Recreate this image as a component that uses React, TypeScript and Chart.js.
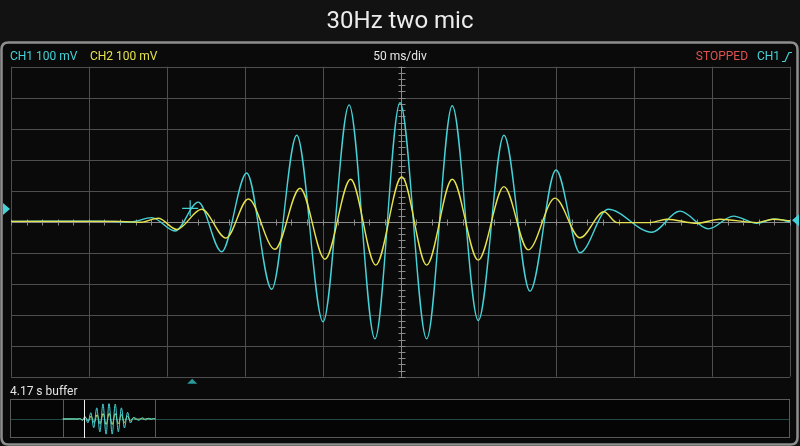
import React, { useEffect, useRef } from "react";
import { Chart, registerables } from "chart.js";
Chart.register(...registerables);

// ---- data ----
const titleText = "30Hz two mic";
const ch1Label = "CH1 100 mV";
const ch2Label = "CH2 100 mV";
const timebaseLabel = "50 ms/div";
const statusLabel = "STOPPED";
const triggerLabel = "CH1";
const bufferLabel = "4.17 s buffer";

// time in ms (screen spans -250..250 ms, 50 ms/div), voltage in mV (100 mV/div)
const ch1Time = [-250, -193, -173.6, -159.7, -144.7, -129.8, -114.8, -98.7, -82.7, -66.6, -49.7, -33.0, -16.4, -0.3, 16.8, 33.2, 49.9, 66.4, 83.1, 99.8, 115.2, 133.2, 161.2, 179.4, 197.6, 213.6, 228.6, 240.4, 250];
const ch1Mv = [1, 2, -1, 13, -30, 63, -97, 157, -218, 279, -323, 377, -378, 384, -378, 374, -319, 279, -224, 167, -100, 40, -34, 34, -23, 18, -5, 9, -1];

const ch2Time = [-250, -180.1, -167.2, -155.5, -143.6, -127.6, -112.0, -97.7, -80.6, -64.5, -48.5, -32.0, -15.9, 0.8, 16.8, 33.2, 49.9, 66.4, 82.0, 99.2, 115.2, 130.6, 139, 160, 171, 190.3, 205, 228.8, 239, 250];
const ch2Mv = [1, 1, -2, 11, -25, 40, -53, 73, -89, 108, -121, 137, -140, 145, -140, 137, -124, 113, -91, 76, -52, 32, -3, -3, 8, -5, 8, -3, 8, 3];

const triggerTimeMs = [-135];
const triggerLevelMv = [43];

const screenRangeMs = [-250, 250];
const voltRangeMv = [-500, 500];
const bufferRangeMs = [-535, 3677];

const CYAN = "#46d2d6";
const YELLOW = "#e6e24e";
const RED = "#e05252";
const GRID = "#4e4e4e";
const TICK = "#8a8a8a";

const toPts = (t: number[], v: number[]) => t.map((x, i) => ({ x, y: v[i] }));

function roundRect(ctx: CanvasRenderingContext2D, x: number, y: number, w: number, h: number, r: number) {
  ctx.beginPath();
  ctx.moveTo(x + r, y);
  ctx.lineTo(x + w - r, y);
  ctx.quadraticCurveTo(x + w, y, x + w, y + r);
  ctx.lineTo(x + w, y + h - r);
  ctx.quadraticCurveTo(x + w, y + h, x + w - r, y + h);
  ctx.lineTo(x + r, y + h);
  ctx.quadraticCurveTo(x, y + h, x, y + h - r);
  ctx.lineTo(x, y + r);
  ctx.quadraticCurveTo(x, y, x + r, y);
  ctx.closePath();
}

const scopePlugin = {
  id: "scope",
  beforeDraw(chart: any) {
    const ctx: CanvasRenderingContext2D = chart.ctx;
    const W = chart.width, H = chart.height;
    ctx.save();
    ctx.fillStyle = "#121212";
    ctx.fillRect(0, 0, W, H);
    // frame
    roundRect(ctx, 1.5, 42.5, W - 4, H - 44, 7);
    ctx.fillStyle = "#0a0a0a";
    ctx.fill();
    ctx.lineWidth = 2.5;
    ctx.strokeStyle = "#8e8e8e";
    ctx.stroke();
    // title
    ctx.fillStyle = "#ececec";
    ctx.font = "24px Roboto, 'Open Sans', sans-serif";
    ctx.textAlign = "center";
    ctx.textBaseline = "middle";
    ctx.fillText(titleText, 400, 22);
    // header
    ctx.font = "12px Roboto, sans-serif";
    ctx.textAlign = "left";
    ctx.fillStyle = CYAN;
    ctx.fillText(ch1Label, 10, 57);
    ctx.fillStyle = YELLOW;
    ctx.fillText(ch2Label, 90, 57);
    ctx.fillStyle = "#e8e8e8";
    ctx.textAlign = "center";
    ctx.fillText(timebaseLabel, 400, 57);
    ctx.textAlign = "right";
    ctx.fillStyle = RED;
    ctx.fillText(statusLabel, 748, 57);
    ctx.textAlign = "left";
    ctx.fillStyle = CYAN;
    ctx.fillText(triggerLabel, 757, 57);
    ctx.strokeStyle = CYAN;
    ctx.lineWidth = 1.2;
    ctx.beginPath();
    ctx.moveTo(782, 61.5);
    ctx.lineTo(785, 61.5);
    ctx.lineTo(789, 52.5);
    ctx.lineTo(792, 52.5);
    ctx.stroke();
    // buffer label
    ctx.fillStyle = "#e4e4e4";
    ctx.fillText(bufferLabel, 10, 392);
    ctx.restore();
  },
  beforeDatasetsDraw(chart: any) {
    const ctx: CanvasRenderingContext2D = chart.ctx;
    const { left, right, top, bottom } = chart.chartArea;
    const xs = chart.scales.x, ys = chart.scales.y;
    ctx.save();
    ctx.strokeStyle = GRID;
    ctx.lineWidth = 1;
    for (let t = screenRangeMs[0]; t <= screenRangeMs[1] + 0.01; t += 50) {
      const px = Math.round(xs.getPixelForValue(t)) + 0.5;
      ctx.beginPath();
      ctx.moveTo(px, top);
      ctx.lineTo(px, bottom);
      ctx.stroke();
    }
    for (let v = voltRangeMv[0]; v <= voltRangeMv[1] + 0.01; v += 100) {
      const py = Math.round(ys.getPixelForValue(v)) + 0.5;
      ctx.beginPath();
      ctx.moveTo(left, py);
      ctx.lineTo(right, py);
      ctx.stroke();
    }
    // center axes with minor ticks
    ctx.strokeStyle = TICK;
    const cx = Math.round(xs.getPixelForValue(0)) + 0.5;
    const cy = Math.round(ys.getPixelForValue(0)) + 0.5;
    ctx.beginPath();
    ctx.moveTo(left, cy);
    ctx.lineTo(right, cy);
    ctx.moveTo(cx, top);
    ctx.lineTo(cx, bottom);
    ctx.stroke();
    ctx.beginPath();
    for (let t = screenRangeMs[0]; t <= screenRangeMs[1] + 0.01; t += 10) {
      const px = Math.round(xs.getPixelForValue(t)) + 0.5;
      ctx.moveTo(px, cy - 3);
      ctx.lineTo(px, cy + 3);
    }
    for (let v = voltRangeMv[0]; v <= voltRangeMv[1] + 0.01; v += 20) {
      const py = Math.round(ys.getPixelForValue(v)) + 0.5;
      ctx.moveTo(cx - 3, py);
      ctx.lineTo(cx + 4, py);
    }
    ctx.stroke();
    ctx.restore();
  },
  afterDraw(chart: any) {
    const ctx: CanvasRenderingContext2D = chart.ctx;
    const { bottom } = chart.chartArea;
    const xs = chart.scales.x, ys = chart.scales.y;
    ctx.save();
    // left channel marker
    ctx.fillStyle = CYAN;
    ctx.beginPath();
    ctx.moveTo(3, 203);
    ctx.lineTo(10, 209);
    ctx.lineTo(3, 215);
    ctx.closePath();
    ctx.fill();
    // right trigger level marker
    const ty = ys.getPixelForValue(5);
    ctx.beginPath();
    ctx.moveTo(799, ty - 6);
    ctx.lineTo(792, ty);
    ctx.lineTo(799, ty + 6);
    ctx.closePath();
    ctx.fill();
    // trigger position marker (bottom)
    const tx = xs.getPixelForValue(triggerTimeMs[0]) + 2;
    ctx.fillStyle = "#2b9a9a";
    ctx.beginPath();
    ctx.moveTo(tx - 5, bottom + 7);
    ctx.lineTo(tx, bottom + 2);
    ctx.lineTo(tx + 5, bottom + 7);
    ctx.closePath();
    ctx.fill();
    ctx.restore();
  },
};

const miniPlugin = {
  id: "mini",
  beforeDatasetsDraw(chart: any) {
    const ctx: CanvasRenderingContext2D = chart.ctx;
    const W = chart.width, H = chart.height;
    const xs = chart.scales.x, ys = chart.scales.y;
    ctx.save();
    ctx.fillStyle = "#050505";
    ctx.fillRect(0, 0, W, H);
    ctx.strokeStyle = "#1f4a48";
    ctx.lineWidth = 1;
    const cy = Math.round(ys.getPixelForValue(0)) + 0.5;
    ctx.beginPath();
    ctx.moveTo(0, cy);
    ctx.lineTo(W, cy);
    ctx.stroke();
    ctx.strokeStyle = "#5a5a5a";
    ctx.strokeRect(0.5, 0.5, W - 1, H - 2);
    for (const t of screenRangeMs) {
      const px = Math.round(xs.getPixelForValue(t)) + 0.5;
      ctx.beginPath();
      ctx.moveTo(px, 0);
      ctx.lineTo(px, H - 1);
      ctx.stroke();
    }
    ctx.restore();
  },
  afterDatasetsDraw(chart: any) {
    const ctx: CanvasRenderingContext2D = chart.ctx;
    const H = chart.height;
    const xs = chart.scales.x;
    const px = Math.round(xs.getPixelForValue(triggerTimeMs[0])) + 0.5;
    ctx.save();
    ctx.strokeStyle = "#f0f0f0";
    ctx.lineWidth = 1;
    ctx.beginPath();
    ctx.moveTo(px, 1);
    ctx.lineTo(px, H - 1);
    ctx.stroke();
    ctx.restore();
  },
};

export default function App() {
  const mainRef = useRef<HTMLCanvasElement>(null);
  const miniRef = useRef<HTMLCanvasElement>(null);

  useEffect(() => {
    document.body.style.margin = "0";
    const main = new Chart(mainRef.current!, {
      type: "line",
      data: {
        datasets: [
          {
            label: "CH2",
            data: toPts(ch2Time, ch2Mv),
            borderColor: YELLOW,
            borderWidth: 1.4,
            pointRadius: 0,
            cubicInterpolationMode: "monotone",
          },
          {
            label: "CH1",
            data: toPts(ch1Time, ch1Mv),
            borderColor: CYAN,
            borderWidth: 1.4,
            pointRadius: 0,
            cubicInterpolationMode: "monotone",
          },
          {
            label: "Trigger",
            data: toPts(triggerTimeMs, triggerLevelMv),
            borderColor: CYAN,
            showLine: false,
            pointStyle: "cross",
            pointRadius: 8,
            pointBorderWidth: 1.2,
          },
        ],
      },
      options: {
        responsive: false,
        animation: false,
        events: [],
        layout: { padding: { left: 11, right: 10, top: 66.7, bottom: 69.3 } },
        scales: {
          x: { type: "linear", min: screenRangeMs[0], max: screenRangeMs[1], display: false },
          y: { type: "linear", min: voltRangeMv[0], max: voltRangeMv[1], display: false },
        },
        plugins: { legend: { display: false }, tooltip: { enabled: false } },
      },
      plugins: [scopePlugin],
    } as any);

    const mini = new Chart(miniRef.current!, {
      type: "line",
      data: {
        datasets: [
          {
            data: toPts(ch1Time, ch1Mv),
            borderColor: CYAN,
            borderWidth: 1,
            pointRadius: 0,
            cubicInterpolationMode: "monotone",
          },
          {
            data: toPts(ch2Time, ch2Mv),
            borderColor: "#b8e070",
            borderWidth: 1,
            pointRadius: 0,
            cubicInterpolationMode: "monotone",
          },
        ],
      },
      options: {
        responsive: false,
        animation: false,
        events: [],
        layout: { padding: 0 },
        scales: {
          x: { type: "linear", min: bufferRangeMs[0], max: bufferRangeMs[1], display: false },
          y: { type: "linear", min: voltRangeMv[0], max: voltRangeMv[1], display: false },
        },
        plugins: { legend: { display: false }, tooltip: { enabled: false } },
      },
      plugins: [miniPlugin],
    } as any);

    return () => {
      main.destroy();
      mini.destroy();
    };
  }, []);

  return (
    <div style={{ position: "fixed", left: 0, top: 0, width: 800, height: 446, background: "#121212" }}>
      <canvas ref={mainRef} width={800} height={446} style={{ position: "absolute", left: 0, top: 0 }} />
      <canvas ref={miniRef} width={780} height={40} style={{ position: "absolute", left: 10, top: 399 }} />
    </div>
  );
}
